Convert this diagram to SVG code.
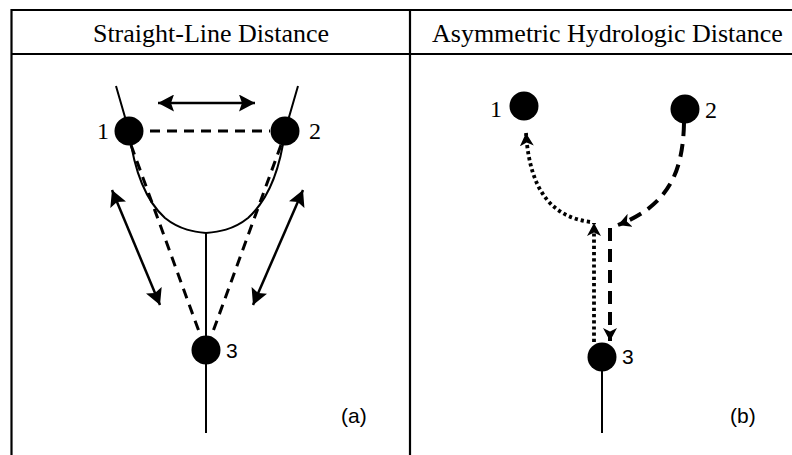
<svg xmlns="http://www.w3.org/2000/svg" width="792" height="455" viewBox="0 0 792 455">
  <style>
    .frame { stroke: #000; stroke-width: 2.2; fill: none; }
    .head { font-family: "Liberation Serif", "Times New Roman", serif; font-size: 26px; fill: #000; }
    .lbl { font-family: "Liberation Serif", "Times New Roman", serif; font-size: 24px; fill: #000; }
    .lbls { font-family: "Liberation Sans", Arial, sans-serif; font-size: 21px; fill: #000; }
    .node { fill: #000; }
    .river { stroke: #000; stroke-width: 2; fill: none; }
    .dashA { stroke: #000; stroke-width: 3; fill: none; stroke-dasharray: 10 7; }
    .arrowA { stroke: #000; stroke-width: 2.5; fill: none; }
    .dashB { stroke: #000; stroke-width: 4; fill: none; stroke-dasharray: 13 8; }
    .dotB { stroke: #000; stroke-width: 3.8; fill: none; stroke-dasharray: 3.2 3; }
  </style>
  <defs>
    <marker id="mA" markerUnits="userSpaceOnUse" markerWidth="18" markerHeight="17" refX="16" refY="8.5" orient="auto-start-reverse">
      <path d="M0,0 L16,8.5 L0,17 L3,8.5 z" fill="#000"/>
    </marker>
    <marker id="mB" markerUnits="userSpaceOnUse" markerWidth="15" markerHeight="14" refX="13" refY="7" orient="auto">
      <path d="M0,0 L13,7 L0,14 L3.5,7 z" fill="#000"/>
    </marker>
  </defs>

  <g id="frame">
    <line class="frame" x1="11.5" y1="10" x2="792" y2="10"/>
    <line class="frame" x1="11.5" y1="54" x2="792" y2="54"/>
    <line class="frame" x1="11.5" y1="9" x2="11.5" y2="455"/>
    <line class="frame" x1="410" y1="9" x2="410" y2="455"/>
    <text class="head" x="211" y="42" text-anchor="middle">Straight-Line Distance</text>
    <text class="head" x="432" y="42">Asymmetric Hydrologic Distance</text>
  </g>

  <g id="rivers">
    <path class="river" d="M116,86 L129,131 C134,170 145,200 165,218 C180,230 195,232 206,233"/>
    <path class="river" d="M298,86 L285,131 C280,170 268,200 248,218 C233,230 218,232 206,233"/>
    <path class="river" d="M206,233 L206,433"/>
    <path class="river" d="M602,357 L602,433"/>
  </g>

  <g id="connectors">
    <path class="dashA" d="M150,131 L270,131"/>
    <path class="dashA" d="M131,145 L201,337"/>
    <path class="dashA" d="M281,145 L211,337"/>
    <path class="arrowA" d="M158,103 L255,103" marker-start="url(#mA)" marker-end="url(#mA)"/>
    <path class="arrowA" d="M112,190 L160,305" marker-start="url(#mA)" marker-end="url(#mA)"/>
    <path class="arrowA" d="M303,190 L253,305" marker-start="url(#mA)" marker-end="url(#mA)"/>

    <path class="dashB" d="M684,123 C683,170 670,205 618,225" marker-end="url(#mB)"/>
    <path class="dashB" d="M610,228 L610,341" marker-end="url(#mB)"/>
    <path class="dotB" d="M594,342 L594,223" marker-end="url(#mB)"/>
    <path class="dotB" d="M590,222 C555,217 530,195 526,133" marker-end="url(#mB)"/>
  </g>

  <g id="a-node1">
    <circle class="node" cx="129" cy="131" r="14.5"/>
    <text class="lbl" x="97" y="139">1</text>
  </g>
  <g id="a-node2">
    <circle class="node" cx="285" cy="131" r="14.5"/>
    <text class="lbl" x="309" y="139">2</text>
  </g>
  <g id="a-node3">
    <circle class="node" cx="206" cy="350" r="14.5"/>
    <text class="lbls" x="226" y="358">3</text>
  </g>
  <g id="b-node1">
    <circle class="node" cx="524" cy="106" r="14.5"/>
    <text class="lbl" x="490" y="117">1</text>
  </g>
  <g id="b-node2">
    <circle class="node" cx="685" cy="109" r="14.5"/>
    <text class="lbl" x="705" y="118">2</text>
  </g>
  <g id="b-node3">
    <circle class="node" cx="602" cy="357" r="14.5"/>
    <text class="lbls" x="622" y="364">3</text>
  </g>

  <g id="captions">
    <text class="lbls" x="341" y="423">(a)</text>
    <text class="lbls" x="730" y="423">(b)</text>
  </g>
</svg>
